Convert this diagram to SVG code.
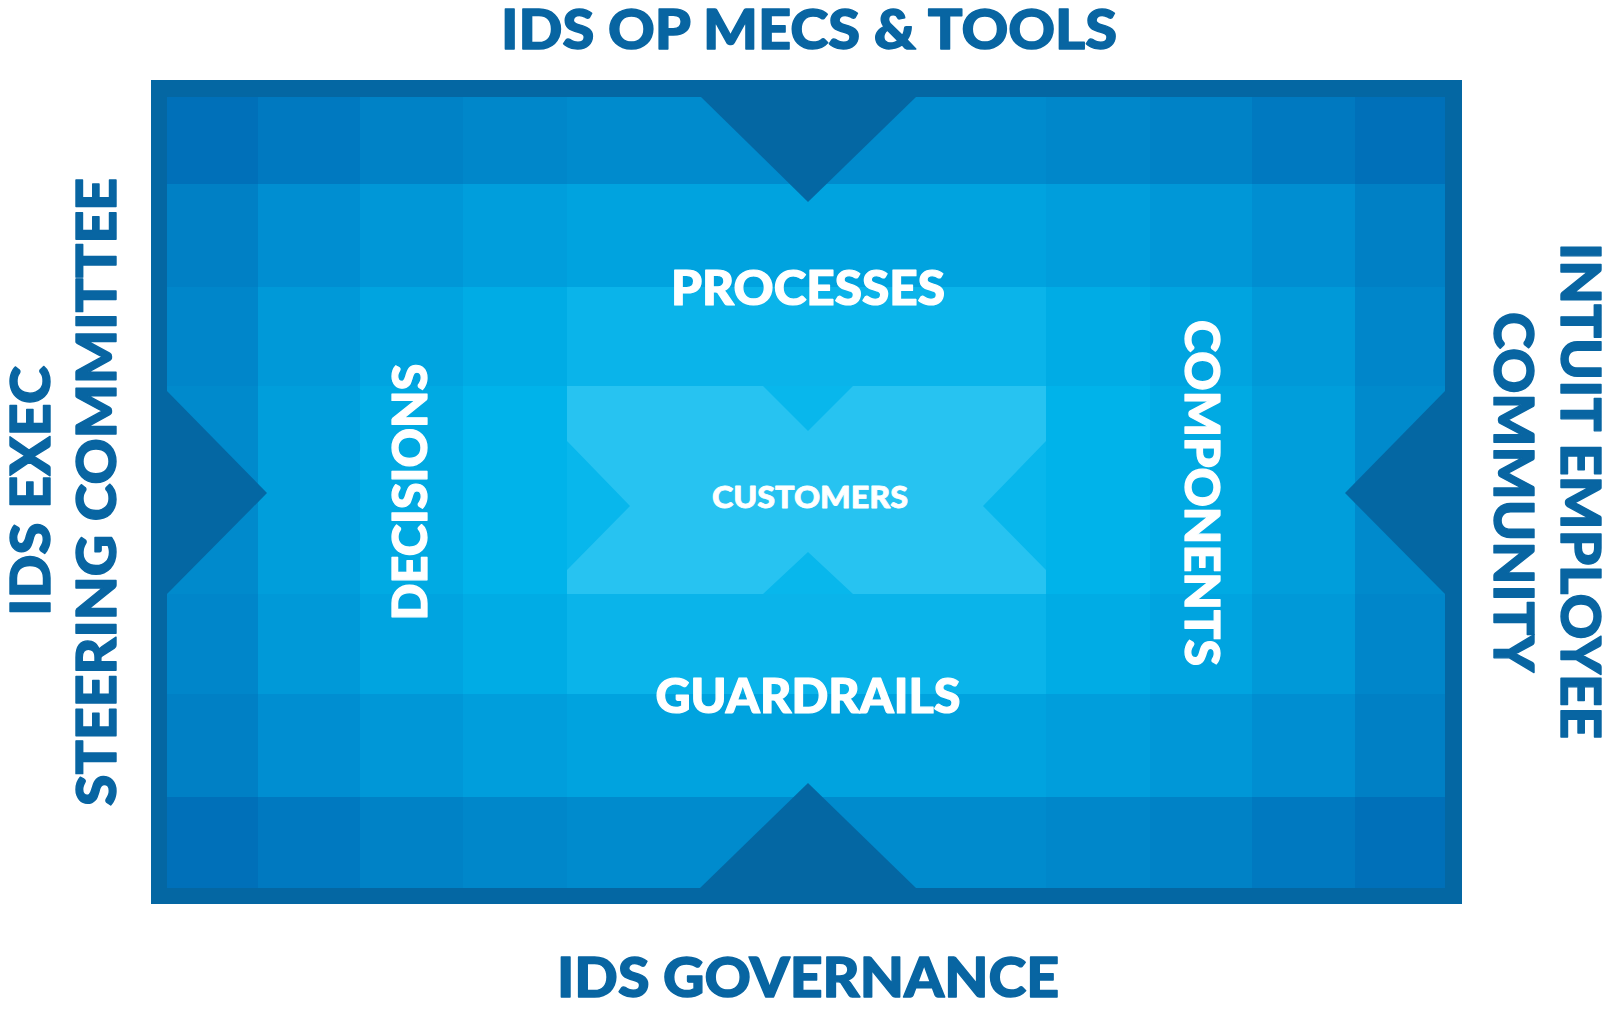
<svg xmlns="http://www.w3.org/2000/svg" width="1612" height="1012" viewBox="0 0 1612 1012">
<style>
.outer{font-family:Lato,"Open Sans","Liberation Sans",sans-serif;font-weight:900;font-size:56px;fill:#0865a2;stroke:#0865a2;stroke-width:1.4px;stroke-linejoin:round;text-anchor:middle}
.inner{font-family:Lato,"Open Sans","Liberation Sans",sans-serif;font-weight:900;font-size:48px;fill:#ffffff;stroke:#ffffff;stroke-width:1.2px;stroke-linejoin:round;text-anchor:middle}
.small{font-family:Lato,"Open Sans","Liberation Sans",sans-serif;font-weight:900;font-size:31px;fill:#ffffff;stroke:#ffffff;stroke-width:0.8px;stroke-linejoin:round;text-anchor:middle}
.dark{fill:#0467a3}
</style>
<rect width="1612" height="1012" fill="#ffffff"/>
<g id="board">
<rect x="151" y="80" width="1311" height="824" fill="#0467a3"/>
<g id="grid">
<rect x="167" y="97" width="91" height="87" fill="#0070b9"/>
<rect x="258" y="97" width="102" height="87" fill="#0079c0"/>
<rect x="360" y="97" width="103" height="87" fill="#0082c6"/>
<rect x="463" y="97" width="104" height="87" fill="#0087ca"/>
<rect x="567" y="97" width="479" height="87" fill="#008bcd"/>
<rect x="1046" y="97" width="104" height="87" fill="#0087ca"/>
<rect x="1150" y="97" width="102" height="87" fill="#0082c6"/>
<rect x="1252" y="97" width="103" height="87" fill="#0079c0"/>
<rect x="1355" y="97" width="90" height="87" fill="#0070b9"/>
<rect x="167" y="184" width="91" height="103" fill="#0080c5"/>
<rect x="258" y="184" width="102" height="103" fill="#008ed1"/>
<rect x="360" y="184" width="103" height="103" fill="#0097d7"/>
<rect x="463" y="184" width="104" height="103" fill="#009edc"/>
<rect x="567" y="184" width="479" height="103" fill="#00a3df"/>
<rect x="1046" y="184" width="104" height="103" fill="#009edc"/>
<rect x="1150" y="184" width="102" height="103" fill="#0097d7"/>
<rect x="1252" y="184" width="103" height="103" fill="#008ed1"/>
<rect x="1355" y="184" width="90" height="103" fill="#0080c5"/>
<rect x="167" y="287" width="91" height="99" fill="#0086ca"/>
<rect x="258" y="287" width="102" height="99" fill="#0099d8"/>
<rect x="360" y="287" width="103" height="99" fill="#00a4e0"/>
<rect x="463" y="287" width="104" height="99" fill="#00ace5"/>
<rect x="567" y="287" width="479" height="99" fill="#0ab4ea"/>
<rect x="1046" y="287" width="104" height="99" fill="#00ace5"/>
<rect x="1150" y="287" width="102" height="99" fill="#00a4e0"/>
<rect x="1252" y="287" width="103" height="99" fill="#0099d8"/>
<rect x="1355" y="287" width="90" height="99" fill="#0086ca"/>
<rect x="167" y="386" width="91" height="208" fill="#008acc"/>
<rect x="258" y="386" width="102" height="208" fill="#009edb"/>
<rect x="360" y="386" width="103" height="208" fill="#00aae3"/>
<rect x="463" y="386" width="104" height="208" fill="#00b3ea"/>
<rect x="567" y="386" width="479" height="208" fill="#08b7ec"/>
<rect x="1046" y="386" width="104" height="208" fill="#00b3ea"/>
<rect x="1150" y="386" width="102" height="208" fill="#00aae3"/>
<rect x="1252" y="386" width="103" height="208" fill="#009edb"/>
<rect x="1355" y="386" width="90" height="208" fill="#008acc"/>
<rect x="167" y="594" width="91" height="100" fill="#0086ca"/>
<rect x="258" y="594" width="102" height="100" fill="#0099d8"/>
<rect x="360" y="594" width="103" height="100" fill="#00a4e0"/>
<rect x="463" y="594" width="104" height="100" fill="#00ace5"/>
<rect x="567" y="594" width="479" height="100" fill="#0ab4ea"/>
<rect x="1046" y="594" width="104" height="100" fill="#00ace5"/>
<rect x="1150" y="594" width="102" height="100" fill="#00a4e0"/>
<rect x="1252" y="594" width="103" height="100" fill="#0099d8"/>
<rect x="1355" y="594" width="90" height="100" fill="#0086ca"/>
<rect x="167" y="694" width="91" height="103" fill="#0080c5"/>
<rect x="258" y="694" width="102" height="103" fill="#008ed1"/>
<rect x="360" y="694" width="103" height="103" fill="#0097d7"/>
<rect x="463" y="694" width="104" height="103" fill="#009edc"/>
<rect x="567" y="694" width="479" height="103" fill="#00a3df"/>
<rect x="1046" y="694" width="104" height="103" fill="#009edc"/>
<rect x="1150" y="694" width="102" height="103" fill="#0097d7"/>
<rect x="1252" y="694" width="103" height="103" fill="#008ed1"/>
<rect x="1355" y="694" width="90" height="103" fill="#0080c5"/>
<rect x="167" y="797" width="91" height="91" fill="#0070b9"/>
<rect x="258" y="797" width="102" height="91" fill="#0079c0"/>
<rect x="360" y="797" width="103" height="91" fill="#0082c6"/>
<rect x="463" y="797" width="104" height="91" fill="#0087ca"/>
<rect x="567" y="797" width="479" height="91" fill="#008bcd"/>
<rect x="1046" y="797" width="104" height="91" fill="#0087ca"/>
<rect x="1150" y="797" width="102" height="91" fill="#0082c6"/>
<rect x="1252" y="797" width="103" height="91" fill="#0079c0"/>
<rect x="1355" y="797" width="90" height="91" fill="#0070b9"/>
</g>
<g id="wedges">
<polygon class="dark" points="700,96 917,96 808,202"/>
<polygon class="dark" points="699,889 917,889 808,783"/>
<polygon class="dark" points="166,390 267,493 166,595"/>
<polygon class="dark" points="1446,390 1345,493 1446,595"/>
</g>
<polygon id="customers-x" fill="#27c3f1" points="567,386 763,386 808,431 853,386 1046,386 1046,441 983,506 1046,570 1046,594 853,594 808,552 763,594 567,594 567,570 630,506 567,441"/>
</g>
<g id="connectors"/>
<g id="node-ops"><text class="outer" x="809" y="49" textLength="616" lengthAdjust="spacingAndGlyphs">IDS OP MECS &amp; TOOLS</text></g>
<g id="node-governance"><text class="outer" x="808" y="997" textLength="502" lengthAdjust="spacingAndGlyphs">IDS GOVERNANCE</text></g>
<g id="node-exec">
<text class="outer" transform="translate(50,491) rotate(-90)" x="0" y="0" textLength="250" lengthAdjust="spacingAndGlyphs">IDS EXEC</text>
<text class="outer" transform="translate(116,492) rotate(-90)" x="0" y="0" textLength="628" lengthAdjust="spacingAndGlyphs">STEERING COMMITTEE</text>
</g>
<g id="node-community">
<text class="outer" transform="translate(1561,491) rotate(90)" x="0" y="0" textLength="496" lengthAdjust="spacingAndGlyphs">INTUIT EMPLOYEE</text>
<text class="outer" transform="translate(1494,492) rotate(90)" x="0" y="0" textLength="360" lengthAdjust="spacingAndGlyphs">COMMUNITY</text>
</g>
<g id="node-processes"><text class="inner" x="808" y="305" textLength="274" lengthAdjust="spacingAndGlyphs">PROCESSES</text></g>
<g id="node-guardrails"><text class="inner" x="808" y="713" textLength="305" lengthAdjust="spacingAndGlyphs">GUARDRAILS</text></g>
<g id="node-decisions"><text class="inner" transform="translate(427,492) rotate(-90)" x="0" y="0" textLength="257" lengthAdjust="spacingAndGlyphs">DECISIONS</text></g>
<g id="node-components"><text class="inner" transform="translate(1185,493) rotate(90)" x="0" y="0" textLength="346" lengthAdjust="spacingAndGlyphs">COMPONENTS</text></g>
<g id="node-customers"><text class="small" x="810" y="508" textLength="196" lengthAdjust="spacingAndGlyphs">CUSTOMERS</text></g>
</svg>
